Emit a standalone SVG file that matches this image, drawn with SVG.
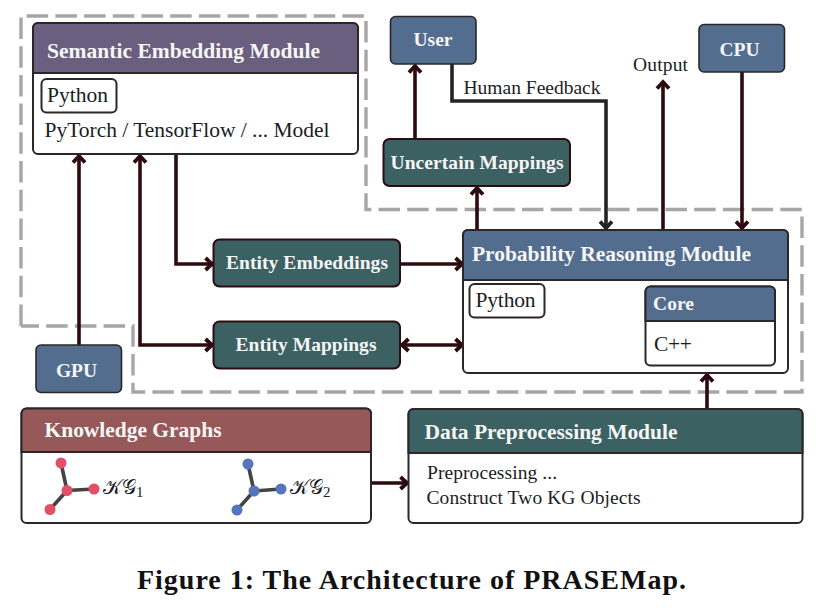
<svg xmlns="http://www.w3.org/2000/svg" width="820" height="614" viewBox="0 0 820 614">
<style>
text{font-family:"Liberation Serif","Times New Roman",serif;fill:#1c1c24}
.h{font-weight:bold;fill:#f6f6f6;font-size:21.500px}
.s{font-size:19.500px}
.b{font-size:21.500px}
.l{font-size:19.500px}
.c{text-anchor:middle}
.m{font-family:"Liberation Serif","DejaVu Serif","DejaVu Sans",serif;font-size:20px}
.box{fill:#fff;stroke:#2b2729;stroke-width:2}
.hd{stroke:#2b2729;stroke-width:2}
.small{fill:#536d8f;stroke:#2b2729;stroke-width:1.6}
.teal{fill:#3c6163;stroke:#2d0c10;stroke-width:2}
.a{fill:none;stroke:#2d0a0e;stroke-width:3.6}
.dk{fill:none;stroke:#262324;stroke-width:3.6}
.e{stroke:#444;stroke-width:3.6}
.red{fill:#e34f66}
.blue{fill:#5575bd}
</style>
<defs>
<marker id="ar" markerUnits="userSpaceOnUse" markerWidth="16" markerHeight="16" refX="11" refY="8" orient="auto-start-reverse"><path d="M3.5,2 L10,8 L3.5,14" fill="none" stroke="#2d0a0e" stroke-width="3.8"/></marker>
<marker id="ad" markerUnits="userSpaceOnUse" markerWidth="16" markerHeight="16" refX="11" refY="8" orient="auto"><path d="M3.5,2 L10,8 L3.5,14" fill="none" stroke="#262324" stroke-width="3.8"/></marker>
</defs>
<path id="dashed-region" d="M21,326V16H366V209.500H802V392H133V326H21" fill="none" stroke="#a8a5a6" stroke-width="3.4" stroke-dasharray="21.5,7.2"/>
<g id="connectors">
<path class="a" d="M79,345V155" marker-end="url(#ar)"/>
<path class="a" d="M140,155V345H213" marker-start="url(#ar)" marker-end="url(#ar)"/>
<path class="a" d="M176,154V264H213" marker-end="url(#ar)"/>
<path class="a" d="M400,264H463" marker-end="url(#ar)"/>
<path class="a" d="M401,345H463" marker-start="url(#ar)" marker-end="url(#ar)"/>
<path class="a" d="M477,230V187" marker-end="url(#ar)"/>
<path class="a" d="M415,139V65" marker-end="url(#ar)"/>
<path class="dk" d="M452,64V101H606V229" marker-end="url(#ad)"/>
<path class="a" d="M663,230V81" marker-end="url(#ar)"/>
<path class="a" d="M742,72V229" marker-end="url(#ar)"/>
<path class="a" d="M707,408V374" marker-end="url(#ar)"/>
<path class="a" d="M371,483H408" marker-end="url(#ar)"/>
</g>
<g id="semantic-module">
<rect class="box" x="33" y="23" width="325" height="131" rx="5"/>
<path class="hd" fill="#6b5f80" d="M33,73V28a5,5 0 0 1 5,-5H353a5,5 0 0 1 5,5V73Z"/>
<text class="h" x="47" y="58" textLength="273">Semantic Embedding Module</text>
<rect class="box" x="41.500" y="79" width="75" height="33.500" rx="5"/>
<text class="b" x="47" y="102" textLength="61">Python</text>
<text class="b" x="44.500" y="137" textLength="285">PyTorch / TensorFlow / ... Model</text>
</g>
<g id="user"><rect class="small" x="390.500" y="16.500" width="85.500" height="47.500" rx="5"/><text class="h s c" x="433" y="46">User</text></g>
<g id="cpu"><rect class="small" x="699" y="24.500" width="85.500" height="47.500" rx="5"/><text class="h s c" x="739.500" y="56">CPU</text></g>
<g id="gpu"><rect class="small" x="36" y="345" width="85.500" height="47.500" rx="5"/><text class="h s c" x="76.500" y="377">GPU</text></g>
<g id="uncertain-mappings"><rect class="teal" x="383.500" y="139" width="186.500" height="47" rx="6"/><text class="h s c" x="477" y="169" textLength="173">Uncertain Mappings</text></g>
<g id="entity-embeddings"><rect class="teal" x="213.500" y="239.500" width="186.500" height="47" rx="6"/><text class="h s c" x="307" y="269" textLength="162">Entity Embeddings</text></g>
<g id="entity-mappings"><rect class="teal" x="213.500" y="321.500" width="186.500" height="47" rx="6"/><text class="h s c" x="306" y="351" textLength="141">Entity Mappings</text></g>
<g id="probability-module">
<rect class="box" x="463" y="230" width="325" height="143" rx="5"/>
<path class="hd" fill="#536d8f" d="M463,280V235a5,5 0 0 1 5,-5H783a5,5 0 0 1 5,5V280Z"/>
<text class="h" x="472" y="261" textLength="279">Probability Reasoning Module</text>
<rect class="box" x="469.500" y="284" width="75" height="33.500" rx="5"/>
<text class="b" x="475.500" y="307" textLength="60">Python</text>
<rect class="box" x="645.500" y="286.500" width="129.500" height="79" rx="5"/>
<path class="hd" fill="#536d8f" d="M645.500,321V291.500a5,5 0 0 1 5,-5H770a5,5 0 0 1 5,5V321Z"/>
<text class="h s" x="653" y="310" textLength="41">Core</text>
<text class="b" x="654" y="351" textLength="38">C++</text>
</g>
<g id="knowledge-graphs">
<rect class="box" x="21.500" y="408.500" width="349.500" height="114.500" rx="5"/>
<path class="hd" fill="#965858" d="M21.500,452V413.500a5,5 0 0 1 5,-5H366a5,5 0 0 1 5,5V452Z"/>
<text class="h" x="44.500" y="437" textLength="177">Knowledge Graphs</text>
<path class="e" d="M61,463L67,490.500M94,489L67,490.500M50,509.500L67,490.500"/>
<circle class="red" cx="61" cy="463" r="5.500"/><circle class="red" cx="94" cy="489" r="5.500"/><circle class="red" cx="50" cy="509.500" r="5.500"/><circle class="red" cx="67" cy="490.500" r="5.500"/>
<text class="m" x="103" y="494">𝒦𝒢<tspan font-size="15" dy="3">1</tspan></text>
<path class="e" d="M248,464L254,491M281,489L254,491M237,510L254,491"/>
<circle class="blue" cx="248" cy="464" r="5.500"/><circle class="blue" cx="281" cy="489" r="5.500"/><circle class="blue" cx="237" cy="510" r="5.500"/><circle class="blue" cx="254" cy="491" r="5.500"/>
<text class="m" x="290" y="494">𝒦𝒢<tspan font-size="15" dy="3">2</tspan></text>
</g>
<g id="data-preprocessing">
<rect class="box" x="408.500" y="409" width="394" height="114" rx="5"/>
<path class="hd" fill="#3c6163" d="M408.500,453V414a5,5 0 0 1 5,-5H797.500a5,5 0 0 1 5,5V453Z"/>
<text class="h" x="424.500" y="439" textLength="253">Data Preprocessing Module</text>
<text class="l" x="427" y="479" textLength="130">Preprocessing ...</text>
<text class="l" x="426.500" y="504" textLength="214">Construct Two KG Objects</text>
</g>
<text class="l" x="463.500" y="94" textLength="137">Human Feedback</text>
<text class="l" x="633" y="71" textLength="55">Output</text>
<text id="caption" x="137" y="589" font-size="28" font-weight="bold" textLength="549" style="fill:#111">Figure 1: The Architecture of PRASEMap.</text>
</svg>
